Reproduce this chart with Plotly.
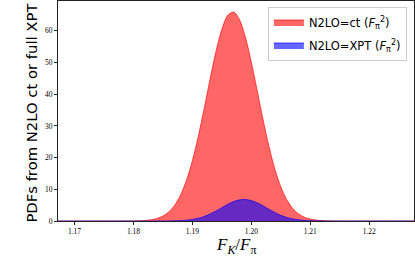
import plotly.graph_objects as go

# x grid (F_K / F_pi)
x_vals = [1.165, 1.180, 1.181, 1.182, 1.183, 1.184, 1.185, 1.186, 1.187, 1.188, 1.189,
          1.190, 1.191, 1.192, 1.193, 1.194, 1.195, 1.196, 1.197, 1.198, 1.199,
          1.200, 1.201, 1.202, 1.203, 1.204, 1.205, 1.206, 1.207, 1.208, 1.209,
          1.210, 1.211, 1.212, 1.213, 1.214, 1.230]

# PDF: N2LO=ct
pdf_ct = [0.0, 0.03, 0.08, 0.18, 0.39, 0.80, 1.56, 2.86, 4.98, 8.20, 12.83,
          19.01, 26.68, 35.50, 44.74, 53.44, 60.49, 64.87, 65.93, 63.49, 57.94,
          50.10, 41.05, 31.88, 23.45, 16.35, 10.80, 6.77, 4.01, 2.26, 1.20,
          0.61, 0.29, 0.13, 0.06, 0.02, 0.0]

# PDF: N2LO=XPT
pdf_xpt = [0.0, 0.0, 0.0, 0.0005, 0.001, 0.004, 0.011, 0.026, 0.061, 0.131, 0.264,
           0.497, 0.873, 1.432, 2.194, 3.141, 4.200, 5.245, 6.119, 6.668, 6.787,
           6.453, 5.731, 4.755, 3.685, 2.667, 1.803, 1.139, 0.672, 0.370, 0.191,
           0.092, 0.041, 0.017, 0.007, 0.003, 0.0]

x_ticks = [1.17, 1.18, 1.19, 1.20, 1.21, 1.22]
x_tick_text = ["1.17", "1.18", "1.19", "1.20", "1.21", "1.22"]
y_ticks = [0, 10, 20, 30, 40, 50, 60]

fig = go.Figure()
fig.add_trace(go.Scatter(
    x=x_vals, y=pdf_ct, mode="lines", fill="tozeroy",
    line=dict(color="rgba(255,0,0,0.65)", width=1, shape="spline", smoothing=0.8),
    fillcolor="rgba(255,0,0,0.6)", legendgroup="ct",
    name="N2LO=ct (<i>F</i><sub>π</sub><sup>2</sup>)",
))
fig.add_trace(go.Scatter(
    x=x_vals, y=pdf_xpt, mode="lines", fill="tozeroy",
    line=dict(color="rgba(0,0,255,0.65)", width=1, shape="spline", smoothing=0.8),
    fillcolor="rgba(0,0,255,0.6)", legendgroup="xpt",
    name="N2LO=XPT (<i>F</i><sub>π</sub><sup>2</sup>)",
))

serif = "Liberation Serif, DejaVu Serif, serif"
fig.update_layout(
    width=415, height=257,
    margin=dict(l=58, r=1, t=1, b=36),
    paper_bgcolor="white", plot_bgcolor="white",
    showlegend=True,
    legend=dict(
        x=0.98, y=0.975, xanchor="right", yanchor="top",
        bgcolor="rgba(255,255,255,0.8)", bordercolor="#cccccc", borderwidth=1,
        font=dict(family="DejaVu Sans, sans-serif", size=11.5, color="black"),
        tracegroupgap=4, itemwidth=30,
    ),
    xaxis=dict(
        range=[1.1672, 1.2276], tickvals=x_ticks, ticktext=x_tick_text,
        showgrid=False, zeroline=False, showline=True, mirror=True,
        linecolor="#222", linewidth=1, ticks="outside", ticklen=3,
        tickcolor="#222", tickfont=dict(family=serif, size=7.5, color="black"),
        automargin=False,
    ),
    yaxis=dict(
        range=[0, 69.4], tickvals=y_ticks,
        showgrid=False, zeroline=False, showline=True, mirror=True,
        linecolor="#222", linewidth=1, ticks="outside", ticklen=3,
        tickcolor="#222", tickfont=dict(family=serif, size=7.5, color="black"),
        automargin=False,
    ),
    annotations=[
        dict(text="<i>F</i><sub><i>K</i></sub>/<i>F</i><sub>π</sub>",
             x=0.5, y=-0.055, xref="paper", yref="paper",
             xanchor="center", yanchor="top", showarrow=False,
             font=dict(family=serif, size=17, color="black")),
        dict(text="PDFs from N2LO ct or full XPT",
             x=-0.045, y=0.495, xref="paper", yref="paper", textangle=-90,
             xanchor="right", yanchor="middle", showarrow=False,
             font=dict(family="DejaVu Sans, sans-serif", size=14.8, color="black")),
    ],
)

fig.write_html("out.html", config={"displayModeBar": False},
               post_script="document.body.style.margin='0';document.body.style.padding='0';")
